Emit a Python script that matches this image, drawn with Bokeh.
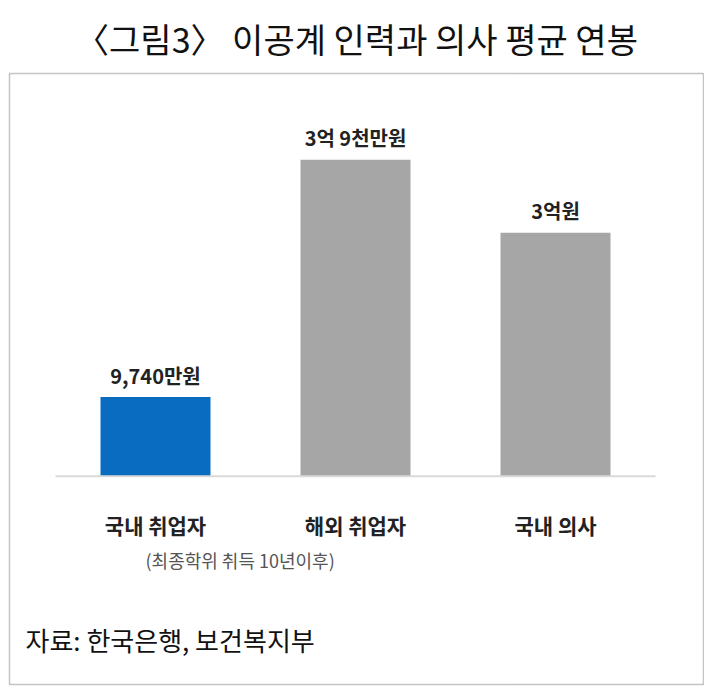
from bokeh.plotting import figure
from bokeh.models import Range1d
from bokeh.core.properties import value
from bokeh.embed import file_html
from bokeh.resources import INLINE

categories = ["국내 취업자", "해외 취업자", "국내 의사"]
salaries = [9740, 39000, 30000]  # 만원
value_labels = ["9,740만원", "3억 9천만원", "3억원"]
bar_colors = ["#0a6cc0", "#a6a6a6", "#a6a6a6"]
note_text = "(최종학위 취득 10년이후)"
source_text = "자료: 한국은행, 보건복지부"
title_text = "〈그림3〉 이공계 인력과 의사 평균 연봉"

FONT = "Noto Sans CJK KR"
idx = list(range(len(categories)))

px_per_x = 200.0
units_per_px = 39000 / 316.0
frame_w, frame_h = 694, 610
x_start = idx[0] - 146 / px_per_x
y_start = -208 * units_per_px

p = figure(width=704, height=692, output_backend="svg", toolbar_location=None,
           x_range=Range1d(x_start, x_start + frame_w / px_per_x),
           y_range=Range1d(y_start, y_start + frame_h * units_per_px),
           min_border_left=9, min_border_right=1, min_border_top=0, min_border_bottom=8,
           title=title_text)
p.axis.visible = False
p.grid.visible = False
p.outline_line_color = "#8a8a8a"
p.outline_line_dash = "1 1"
p.outline_line_width = 1.5

p.title.text_font = FONT
p.title.text_font_size = "34px"
p.title.text_font_style = "normal"
p.title.text_color = "#111111"
p.title.align = "center"
p.title.standoff = 22
p.title.offset = 0

p.vbar(x=idx, top=salaries, bottom=0, width=0.55, color=bar_colors, line_color=None)
p.segment(x0=[idx[0] - 0.5], y0=[0], x1=[idx[-1] + 0.5], y1=[0],
          line_color="#d9d9d9", line_width=2)

p.text(x=idx, y=salaries, text=value_labels, text_font=value(FONT), text_font_style="bold",
       text_font_size="20px", text_align="center", text_baseline="middle",
       y_offset=-22, text_color="#222222")
p.text(x=idx, y=[0] * len(idx), text=categories, text_font=value(FONT), text_font_style="bold",
       text_font_size="21px", text_align="center", text_baseline="middle",
       y_offset=49, text_color="#222222")
p.text(x=[idx[0]], y=[0], text=[note_text], text_font=value(FONT),
       text_font_size="18px", text_align="left", text_baseline="middle",
       x_offset=-10, y_offset=84, text_color="#555555")
p.text(x=[x_start], y=[y_start], text=[source_text], text_font=value(FONT),
       text_font_size="26px", text_align="left", text_baseline="middle",
       x_offset=16, y_offset=-45, text_color="#111111")

open("out.html", "w").write(file_html(p, INLINE))
